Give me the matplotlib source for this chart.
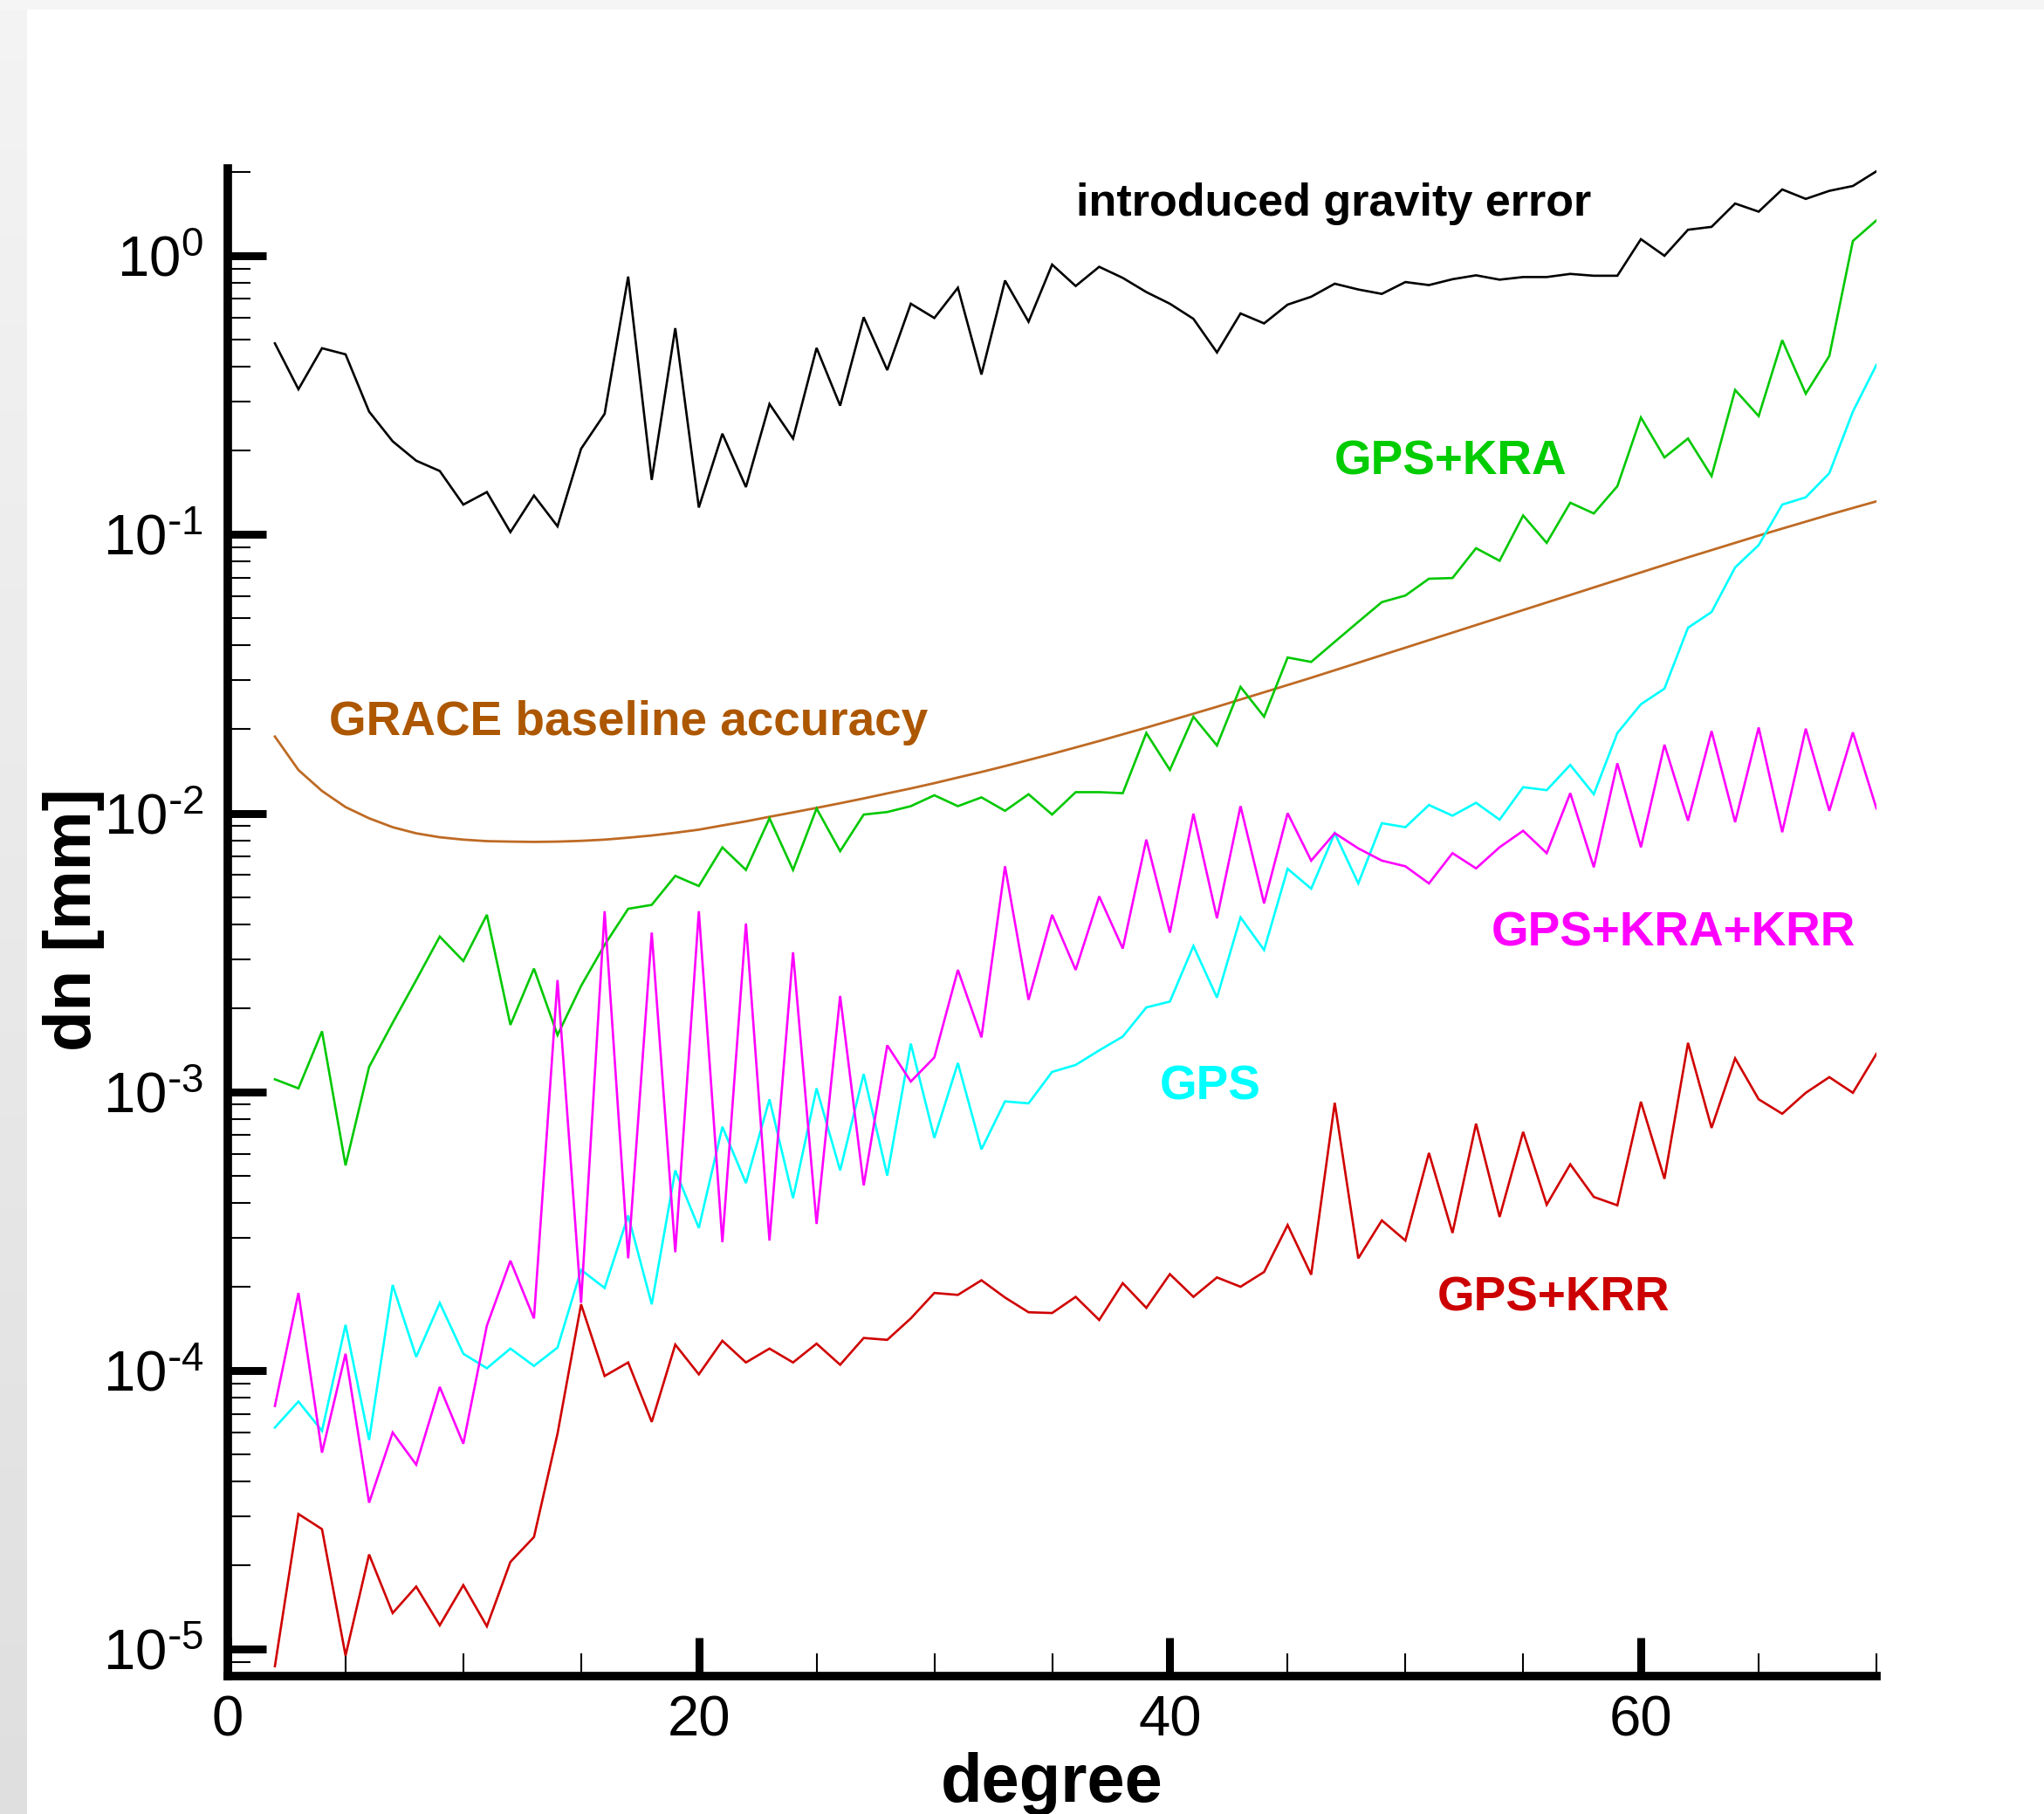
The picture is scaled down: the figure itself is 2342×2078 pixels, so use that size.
import numpy as np
import matplotlib
matplotlib.use("Agg")
import matplotlib.pyplot as plt
from matplotlib.ticker import FixedLocator, LogLocator, FuncFormatter, NullFormatter
from matplotlib.patches import Rectangle

plt.rcParams['font.family'] = ['Liberation Sans', 'DejaVu Sans']
plt.rcParams['mathtext.default'] = 'regular'

# ---------------- data ----------------
degree = list(range(2, 71))

introduced_gravity_error = [
    0.485, 0.332, 0.466, 0.443, 0.276, 0.216, 0.184, 0.169, 0.128, 0.142,
    0.102, 0.138, 0.107, 0.203, 0.271, 0.842, 0.157, 0.55, 0.125, 0.23,
    0.148, 0.294, 0.221, 0.467, 0.290, 0.602, 0.389, 0.673, 0.598, 0.768,
    0.375, 0.815, 0.580, 0.93, 0.779, 0.913, 0.833, 0.741, 0.673, 0.594,
    0.450, 0.621, 0.572, 0.668, 0.713, 0.794, 0.757, 0.730, 0.805, 0.785,
    0.824, 0.851, 0.821, 0.839, 0.839, 0.861, 0.848, 0.848, 1.147, 1.0,
    1.24, 1.27, 1.54, 1.44, 1.73, 1.60, 1.71, 1.78, 2.01]

gps_kra = [
    1.11e-3, 1.03e-3, 1.65e-3, 5.45e-4, 1.23e-3, 1.77e-3, 2.52e-3, 3.61e-3, 2.95e-3, 4.32e-3,
    1.74e-3, 2.77e-3, 1.60e-3, 2.40e-3, 3.37e-3, 4.54e-3, 4.69e-3, 5.96e-3, 5.48e-3, 7.54e-3,
    6.26e-3, 9.59e-3, 6.26e-3, 1.04e-2, 7.31e-3, 9.89e-3, 1.01e-2, 1.06e-2, 1.16e-2, 1.06e-2,
    1.14e-2, 1.02e-2, 1.17e-2, 9.89e-3, 1.19e-2, 1.19e-2, 1.18e-2, 1.94e-2, 1.43e-2, 2.22e-2,
    1.75e-2, 2.84e-2, 2.22e-2, 3.62e-2, 3.49e-2, 4.12e-2, 4.86e-2, 5.72e-2, 6.04e-2, 6.94e-2,
    6.98e-2, 8.93e-2, 8.05e-2, 0.117, 9.33e-2, 0.130, 0.119, 0.149, 0.263, 0.189,
    0.221, 0.162, 0.330, 0.266, 0.498, 0.320, 0.437, 1.13, 1.34]

grace_baseline = [
    0.01884, 0.01429, 0.01202, 0.01052, 0.00959, 0.00891, 0.00847, 0.00820, 0.00804, 0.00794,
    0.00791, 0.00789, 0.00791, 0.00796, 0.00804, 0.00817, 0.00832, 0.00851, 0.00873, 0.00904,
    0.00935, 0.00971, 0.01007, 0.01045, 0.01086, 0.01130, 0.01178, 0.01227, 0.01282, 0.01343,
    0.01406, 0.01476, 0.01552, 0.01633, 0.01722, 0.01816, 0.01919, 0.02028, 0.02148, 0.02275,
    0.02410, 0.02559, 0.02716, 0.02884, 0.03062, 0.03258, 0.03467, 0.03690, 0.03926, 0.04178,
    0.04446, 0.04732, 0.05035, 0.05358, 0.05702, 0.06067, 0.06457, 0.06871, 0.07311, 0.07780,
    0.08279, 0.08790, 0.09333, 0.09908, 0.1050, 0.1112, 0.1178, 0.1245, 0.1315]

gps = [
    6.25e-5, 7.75e-5, 6.08e-5, 1.46e-4, 5.64e-5, 2.03e-4, 1.12e-4, 1.75e-4, 1.15e-4, 1.02e-4,
    1.20e-4, 1.04e-4, 1.21e-4, 2.30e-4, 1.98e-4, 3.60e-4, 1.73e-4, 5.23e-4, 3.25e-4, 7.50e-4,
    4.71e-4, 9.41e-4, 4.16e-4, 1.03e-3, 5.23e-4, 1.16e-3, 5.01e-4, 1.49e-3, 6.84e-4, 1.27e-3,
    6.22e-4, 9.25e-4, 9.10e-4, 1.18e-3, 1.25e-3, 1.41e-3, 1.58e-3, 2.01e-3, 2.11e-3, 3.34e-3,
    2.18e-3, 4.23e-3, 3.23e-3, 6.32e-3, 5.36e-3, 8.48e-3, 5.60e-3, 9.21e-3, 8.91e-3, 1.07e-2,
    9.80e-3, 1.09e-2, 9.48e-3, 1.24e-2, 1.21e-2, 1.49e-2, 1.17e-2, 1.94e-2, 2.46e-2, 2.80e-2,
    4.63e-2, 5.27e-2, 7.62e-2, 9.16e-2, 0.128, 0.136, 0.166, 0.276, 0.406]

gps_kra_krr = [
    7.47e-5, 1.90e-4, 5.08e-5, 1.15e-4, 3.36e-5, 6.00e-5, 4.60e-5, 8.74e-5, 5.47e-5, 1.45e-4,
    2.48e-4, 1.54e-4, 2.52e-3, 1.75e-4, 4.45e-3, 2.53e-4, 3.73e-3, 2.66e-4, 4.45e-3, 2.89e-4,
    4.02e-3, 2.93e-4, 3.17e-3, 3.36e-4, 2.21e-3, 4.62e-4, 1.47e-3, 1.09e-3, 1.33e-3, 2.74e-3,
    1.57e-3, 6.45e-3, 2.14e-3, 4.32e-3, 2.74e-3, 5.03e-3, 3.27e-3, 8.04e-3, 3.73e-3, 9.96e-3,
    4.20e-3, 1.06e-2, 4.75e-3, 1.00e-2, 6.76e-3, 8.48e-3, 7.48e-3, 6.76e-3, 6.45e-3, 5.60e-3,
    7.19e-3, 6.34e-3, 7.55e-3, 8.65e-3, 7.19e-3, 1.18e-2, 6.40e-3, 1.51e-2, 7.55e-3, 1.76e-2,
    9.40e-3, 1.97e-2, 9.29e-3, 2.03e-2, 8.55e-3, 2.01e-2, 1.02e-2, 1.95e-2, 1.04e-2]

gps_krr = [
    8.7e-6, 3.06e-5, 2.70e-5, 9.5e-6, 2.19e-5, 1.35e-5, 1.68e-5, 1.22e-5, 1.70e-5, 1.21e-5,
    2.06e-5, 2.53e-5, 5.94e-5, 1.73e-4, 9.57e-5, 1.07e-4, 6.55e-5, 1.24e-4, 9.70e-5, 1.28e-4,
    1.07e-4, 1.20e-4, 1.07e-4, 1.25e-4, 1.05e-4, 1.31e-4, 1.29e-4, 1.54e-4, 1.90e-4, 1.87e-4,
    2.11e-4, 1.83e-4, 1.62e-4, 1.61e-4, 1.84e-4, 1.52e-4, 2.06e-4, 1.68e-4, 2.22e-4, 1.84e-4,
    2.16e-4, 2.00e-4, 2.26e-4, 3.33e-4, 2.21e-4, 9.14e-4, 2.53e-4, 3.46e-4, 2.93e-4, 6.04e-4,
    3.12e-4, 7.69e-4, 3.56e-4, 7.19e-4, 3.94e-4, 5.50e-4, 4.20e-4, 3.92e-4, 9.22e-4, 4.88e-4,
    1.50e-3, 7.43e-4, 1.32e-3, 9.41e-4, 8.35e-4, 9.93e-4, 1.13e-3, 9.93e-4, 1.37e-3]

x_major_ticks = [0, 20, 40, 60]
x_minor_ticks = [5, 10, 15, 25, 30, 35, 45, 50, 55, 65, 70]

# ---------------- figure ----------------
W, H = 2342, 2078
fig = plt.figure(figsize=(W / 100, H / 100), dpi=100)
fig.patch.set_facecolor('white')

# light grey frame strips (screenshot border)
fig.patches.append(Rectangle((0, 1 - 11 / H), 1, 11 / H, transform=fig.transFigure,
                             facecolor='#F5F5F5', edgecolor='none', zorder=0))
gax = fig.add_axes([0, 0, 31 / W, 1 - 11 / H])
grad = np.linspace(0.955, 0.875, 256).reshape(-1, 1)
gax.imshow(np.dstack([grad, grad, grad]), aspect='auto', extent=[0, 1, 0, 1])
gax.set_axis_off()

def fx(px):
    return px / W

def fy(py):
    return 1 - py / H

ax = fig.add_axes([fx(261), fy(1919.5), (2150 - 261) / W, (1919.5 - 193) / H])
ax.set_yscale('log')
ax.set_xlim(0, 70)
ax.set_ylim(8.05e-6, 2.057)

lw = 1.9
ax.plot(degree, grace_baseline, color='#BE6A24', lw=2.0, solid_joinstyle='miter', zorder=3)
ax.plot(degree, introduced_gravity_error, color='black', lw=lw, solid_joinstyle='miter', zorder=4)
ax.plot(degree, gps_kra, color='#00C800', lw=lw, solid_joinstyle='miter', zorder=4)
ax.plot(degree, gps, color='#00FFFF', lw=lw, solid_joinstyle='miter', zorder=4)
ax.plot(degree, gps_kra_krr, color='#FF00FF', lw=lw, solid_joinstyle='miter', zorder=5)
ax.plot(degree, gps_krr, color='#D00000', lw=lw, solid_joinstyle='miter', zorder=5)

# spines
for s in ['top', 'right']:
    ax.spines[s].set_visible(False)
for s in ['left', 'bottom']:
    ax.spines[s].set_linewidth(7)
ax.spines['bottom'].set_capstyle('projecting')


def log_label(v, pos):
    e = int(round(np.log10(v)))
    if e < 0:
        return r'$\mathregular{10^{\text{-}%d}}$' % (-e)
    return r'$\mathregular{10^{%d}}$' % e


# ticks
ax.xaxis.set_major_locator(FixedLocator(x_major_ticks))
ax.xaxis.set_minor_locator(FixedLocator(x_minor_ticks))
ax.yaxis.set_major_locator(LogLocator(base=10, numticks=30))
ax.yaxis.set_minor_locator(LogLocator(base=10, subs=np.arange(2, 10) * 1.0, numticks=200))
ax.yaxis.set_minor_formatter(NullFormatter())
ax.yaxis.set_major_formatter(FuncFormatter(log_label))
ax.xaxis.set_major_formatter(FuncFormatter(lambda v, p: '%d' % v))

ax.tick_params(axis='both', which='major', direction='in', length=31.5, width=6.5,
               labelsize=47, color='black')
ax.tick_params(axis='both', which='minor', direction='in', length=19, width=1.5)
ax.tick_params(axis='x', which='major', pad=16)
ax.tick_params(axis='y', which='major', pad=20)

# axis titles
fig.text(fx(84), fy(1054), 'dn [mm]', rotation=90, fontsize=55, fontweight='bold',
         ha='center', va='center')
fig.text(fx(1205), fy(2064), 'degree', fontsize=56, fontweight='bold',
         ha='center', va='baseline')

# curve labels
fig.text(fx(1233), fy(247), 'introduced gravity error', fontsize=37.5, fontweight='bold',
         color='black', ha='left', va='baseline')
fig.text(fx(1529), fy(543), 'GPS+KRA', fontsize=39.5, fontweight='bold',
         color='#00CC00', ha='left', va='baseline')
fig.text(fx(377), fy(842), 'GRACE baseline accuracy', fontsize=39.5, fontweight='bold',
         color='#AD5700', ha='left', va='baseline')
fig.text(fx(1709), fy(1084), 'GPS+KRA+KRR', fontsize=39.5, fontweight='bold',
         color='#FF00FF', ha='left', va='baseline')
fig.text(fx(1329), fy(1259), 'GPS', fontsize=39.5, fontweight='bold',
         color='#00FFFF', ha='left', va='baseline')
fig.text(fx(1647), fy(1501), 'GPS+KRR', fontsize=39.5, fontweight='bold',
         color='#CC0000', ha='left', va='baseline')

fig.savefig('out.png', dpi=100, facecolor='white')
